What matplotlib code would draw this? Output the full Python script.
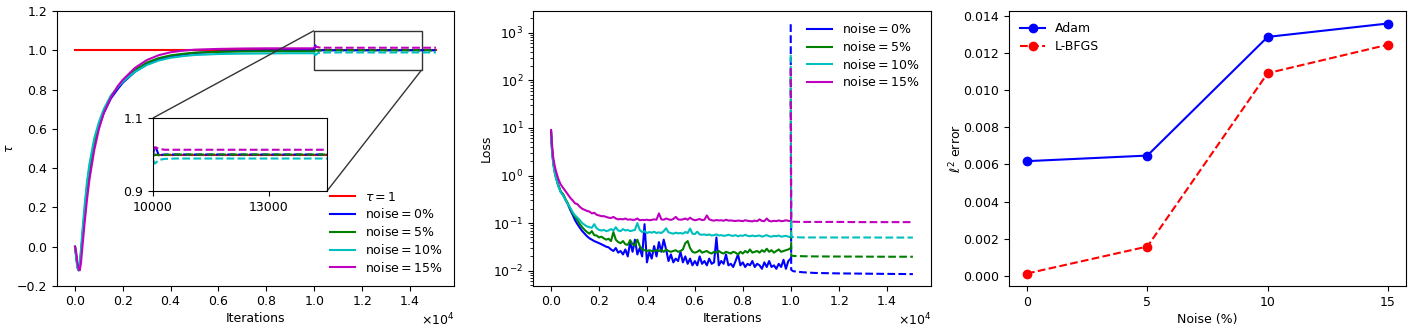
import numpy as np
import matplotlib
matplotlib.use("Agg")
import matplotlib.pyplot as plt
from mpl_toolkits.axes_grid1.inset_locator import mark_inset

plt.rcParams['font.size'] = 9

# ---------------- Panel 1: tau vs iterations ----------------
tau_iters = [0, 50, 100, 150, 200, 250, 300, 400, 500, 600, 800, 1000, 1200, 1500,
             1800, 2000, 2500, 3000, 3500, 4000, 4500, 5000, 6000, 7000, 8000, 9000, 10000]
tau_n0 = [0.0, -0.05, -0.10, -0.12, -0.10, -0.04, 0.03, 0.17, 0.30, 0.39, 0.52, 0.61, 0.68, 0.755,
          0.805, 0.835, 0.89, 0.928, 0.953, 0.968, 0.978, 0.986, 0.993, 0.997, 0.999, 1.0, 1.0]
tau_n5 = [0.0, -0.05, -0.10, -0.12, -0.09, -0.03, 0.04, 0.18, 0.31, 0.40, 0.53, 0.62, 0.69, 0.765,
          0.815, 0.845, 0.90, 0.937, 0.96, 0.974, 0.982, 0.988, 0.992, 0.994, 0.995, 0.995, 0.995]
tau_n10 = [0.0, -0.06, -0.11, -0.12, -0.08, -0.01, 0.07, 0.21, 0.33, 0.42, 0.55, 0.635, 0.70, 0.77,
           0.815, 0.84, 0.89, 0.925, 0.948, 0.962, 0.97, 0.976, 0.981, 0.983, 0.984, 0.985, 0.985]
tau_n15 = [0.0, -0.03, -0.08, -0.115, -0.12, -0.08, -0.01, 0.12, 0.24, 0.34, 0.49, 0.60, 0.68, 0.76,
           0.82, 0.85, 0.91, 0.95, 0.975, 0.99, 0.998, 1.003, 1.007, 1.009, 1.01, 1.01, 1.01]

tau_lb_iters = [10000, 10050, 10150, 10300, 10600, 11000, 12000, 13000, 14000, 15100]
tau_lb_n0 = [1.0, 1.025, 0.998, 1.0, 1.0, 1.0, 1.0, 1.0, 1.0, 1.0]
tau_lb_n5 = [0.995, 1.0, 0.998, 0.999, 1.0, 1.0, 1.0, 1.0, 1.0, 1.0]
tau_lb_n10 = [0.985, 0.975, 0.985, 0.988, 0.989, 0.989, 0.989, 0.989, 0.989, 0.989]
tau_lb_n15 = [1.01, 1.02, 1.016, 1.013, 1.013, 1.013, 1.013, 1.013, 1.013, 1.013]

tau_true_iters = [0, 15100]
tau_true = [1.0, 1.0]

# ---------------- Panel 2: loss vs iterations ----------------
loss_iters = [0, 25, 50, 75, 100, 150, 200, 300, 400] + list(range(500, 10001, 100))
loss_n0 = [8.5, 4.8, 3.2, 2.3, 1.8, 1.25, 0.95, 0.63, 0.46,
           0.4, 0.31, 0.25, 0.19, 0.15, 0.115, 0.095, 0.08, 0.068, 0.06,
           0.053, 0.048, 0.045, 0.042, 0.04, 0.038, 0.036, 0.034, 0.032, 0.031,
           0.028, 0.026, 0.03, 0.024, 0.026, 0.022, 0.028, 0.02, 0.04, 0.025,
           0.045, 0.022, 0.03, 0.02, 0.095, 0.015, 0.025, 0.018, 0.033, 0.02,
           0.04, 0.025, 0.045, 0.028, 0.016, 0.022, 0.015, 0.018, 0.016, 0.025,
           0.015, 0.02, 0.014, 0.018, 0.013, 0.016, 0.013, 0.02, 0.014, 0.016,
           0.013, 0.018, 0.014, 0.015, 0.05, 0.013, 0.016, 0.014, 0.022, 0.013,
           0.014, 0.012, 0.016, 0.022, 0.013, 0.015, 0.012, 0.014, 0.013, 0.016,
           0.012, 0.014, 0.013, 0.011, 0.015, 0.012, 0.016, 0.012, 0.013, 0.011,
           0.014, 0.012, 0.017, 0.011, 0.016, 0.018]
loss_n5 = [8.0, 4.5, 3.0, 2.2, 1.7, 1.2, 0.92, 0.62, 0.46,
           0.4, 0.32, 0.26, 0.2, 0.16, 0.135, 0.115, 0.095, 0.082, 0.072,
           0.065, 0.06, 0.068, 0.056, 0.055, 0.05, 0.052, 0.048, 0.045, 0.047,
           0.042, 0.065, 0.045, 0.04, 0.038, 0.042, 0.036, 0.035, 0.044, 0.036,
           0.034, 0.045, 0.033, 0.028, 0.027, 0.026, 0.027, 0.026, 0.026, 0.027,
           0.026, 0.027, 0.025, 0.028, 0.026, 0.025, 0.026, 0.027, 0.025, 0.026,
           0.028, 0.038, 0.042, 0.03, 0.025, 0.024, 0.025, 0.027, 0.024, 0.025,
           0.026, 0.024, 0.023, 0.025, 0.024, 0.026, 0.024, 0.023, 0.025, 0.024,
           0.023, 0.025, 0.024, 0.022, 0.025, 0.023, 0.026, 0.024, 0.028, 0.024,
           0.025, 0.026, 0.024, 0.027, 0.025, 0.029, 0.025, 0.027, 0.024, 0.026,
           0.028, 0.025, 0.026, 0.027, 0.028, 0.03]
loss_n10 = [6.5, 4.0, 2.8, 2.1, 1.6, 1.15, 0.9, 0.6, 0.45,
            0.38, 0.31, 0.25, 0.21, 0.17, 0.145, 0.13, 0.115, 0.1, 0.092,
            0.085, 0.082, 0.08, 0.095, 0.078, 0.072, 0.07, 0.072, 0.068, 0.07,
            0.075, 0.07, 0.082, 0.07, 0.068, 0.075, 0.07, 0.072, 0.068, 0.07,
            0.072, 0.1, 0.072, 0.065, 0.068, 0.062, 0.065, 0.063, 0.066, 0.062,
            0.064, 0.062, 0.068, 0.078, 0.064, 0.062, 0.06, 0.063, 0.061, 0.062,
            0.06, 0.065, 0.062, 0.077, 0.06, 0.059, 0.066, 0.058, 0.057, 0.058,
            0.056, 0.058, 0.055, 0.056, 0.058, 0.055, 0.056, 0.054, 0.055, 0.057,
            0.055, 0.054, 0.056, 0.053, 0.055, 0.054, 0.057, 0.054, 0.053, 0.055,
            0.053, 0.054, 0.055, 0.052, 0.054, 0.056, 0.053, 0.052, 0.054, 0.053,
            0.055, 0.052, 0.053, 0.054, 0.052, 0.051]
loss_n15 = [9.0, 5.5, 3.8, 2.8, 2.2, 1.6, 1.25, 0.85, 0.65,
            0.55, 0.47, 0.40, 0.34, 0.30, 0.26, 0.25, 0.22, 0.20, 0.19,
            0.18, 0.175, 0.16, 0.165, 0.15, 0.145, 0.14, 0.14, 0.135, 0.13,
            0.128, 0.135, 0.125, 0.12, 0.122, 0.12, 0.125, 0.118, 0.12, 0.117,
            0.118, 0.125, 0.115, 0.117, 0.116, 0.118, 0.115, 0.117, 0.12, 0.118,
            0.16, 0.12, 0.118, 0.125, 0.12, 0.117, 0.122, 0.135, 0.12, 0.118,
            0.12, 0.125, 0.118, 0.13, 0.12, 0.115, 0.118, 0.122, 0.116, 0.118,
            0.145, 0.12, 0.115, 0.113, 0.116, 0.114, 0.115, 0.112, 0.118, 0.113,
            0.114, 0.112, 0.111, 0.113, 0.112, 0.11, 0.115, 0.112, 0.11, 0.109,
            0.113, 0.11, 0.12, 0.111, 0.11, 0.125, 0.111, 0.109, 0.112, 0.11,
            0.114, 0.11, 0.111, 0.115, 0.112, 0.11]

loss_lb_iters = [10000, 10020, 10100, 10500, 11000, 12000, 13000, 14000, 15100]
loss_lb_n0 = [1500, 0.0105, 0.0098, 0.0093, 0.0090, 0.0088, 0.0087, 0.0086, 0.0085]
loss_lb_n5 = [120, 0.021, 0.0205, 0.0202, 0.020, 0.0199, 0.0198, 0.0197, 0.0197]
loss_lb_n10 = [340, 0.052, 0.051, 0.050, 0.050, 0.050, 0.050, 0.0498, 0.0498]
loss_lb_n15 = [180, 0.108, 0.107, 0.106, 0.106, 0.106, 0.105, 0.105, 0.105]

# ---------------- Panel 3: l2 error vs noise ----------------
noise_levels = [0, 5, 10, 15]
err_adam = [0.00617, 0.00647, 0.01285, 0.01357]
err_lbfgs = [0.00013, 0.00158, 0.01090, 0.01243]

colors = ['b', 'g', 'c', 'm']
noise_labels = [r'$\mathrm{noise}=0\%$', r'$\mathrm{noise}=5\%$',
                r'$\mathrm{noise}=10\%$', r'$\mathrm{noise}=15\%$']

fig = plt.figure(figsize=(14.17, 3.27), dpi=100)
bottom = 41 / 327
height = 275 / 327
ax1 = fig.add_axes([57/1417, bottom, 397/1417, height])
ax2 = fig.add_axes([533/1417, bottom, 398/1417, height])
ax3 = fig.add_axes([1009/1417, bottom, 397/1417, height])

# Panel 1
tau_adam = [tau_n0, tau_n5, tau_n10, tau_n15]
tau_lb = [tau_lb_n0, tau_lb_n5, tau_lb_n10, tau_lb_n15]
ax1.plot(tau_true_iters, tau_true, 'r-', label=r'$\tau=1$')
for c, lab, ya in zip(colors, noise_labels, tau_adam):
    ax1.plot(tau_iters, ya, color=c, ls='-', label=lab)
for c, yl in zip(colors, tau_lb):
    ax1.plot(tau_lb_iters, yl, color=c, ls='--')
ax1.set_ylim(-0.2, 1.2)
ax1.set_xlabel('Iterations', labelpad=3)
ax1.set_ylabel(r'$\tau$', labelpad=1)
ax1.ticklabel_format(axis='x', style='sci', scilimits=(0, 0), useMathText=True)
ax1.legend(loc='lower right', frameon=False, labelspacing=0.3)

axins = fig.add_axes([153/1417, (327-191)/327, 174/1417, 73/327])
axins.plot(tau_true_iters, tau_true, 'r-')
for c, ya in zip(colors, tau_adam):
    axins.plot(tau_iters, ya, color=c, ls='-')
for c, yl in zip(colors, tau_lb):
    axins.plot(tau_lb_iters, yl, color=c, ls='--')
axins.set_xlim(10000, 14500)
axins.set_ylim(0.9, 1.1)
axins.set_xticks([10000, 13000])
axins.set_yticks([0.9, 1.1])
mark_inset(ax1, axins, loc1=2, loc2=4, fc='none', ec='0.2', lw=1.0)

# Panel 2
loss_adam = [loss_n0, loss_n5, loss_n10, loss_n15]
loss_lb = [loss_lb_n0, loss_lb_n5, loss_lb_n10, loss_lb_n15]
for c, lab, ya in zip(colors, noise_labels, loss_adam):
    ax2.plot(loss_iters, ya, color=c, ls='-', label=lab)
for c, yl in zip(colors, loss_lb):
    ax2.plot(loss_lb_iters, yl, color=c, ls='--')
ax2.set_yscale('log')
ax2.set_ylim(10**-2.32, 10**3.454)
ax2.set_xlabel('Iterations', labelpad=3)
ax2.set_ylabel('Loss', labelpad=0)
ax2.ticklabel_format(axis='x', style='sci', scilimits=(0, 0), useMathText=True)
ax2.legend(loc='upper right', frameon=False, labelspacing=0.3)

# Panel 3
ax3.plot(noise_levels, err_adam, 'bo-', label='Adam')
ax3.plot(noise_levels, err_lbfgs, 'ro--', label='L-BFGS')
ax3.set_xticks(noise_levels)
ax3.set_xlabel('Noise (%)', labelpad=3)
ax3.set_ylabel(r'$\ell^2$ error', labelpad=-1)
ax3.legend(loc='upper left', frameon=False, labelspacing=0.4)

for ax in (ax1, ax2):
    ax.tick_params(axis='x', pad=3)

fig.savefig('out.png', dpi=100)
